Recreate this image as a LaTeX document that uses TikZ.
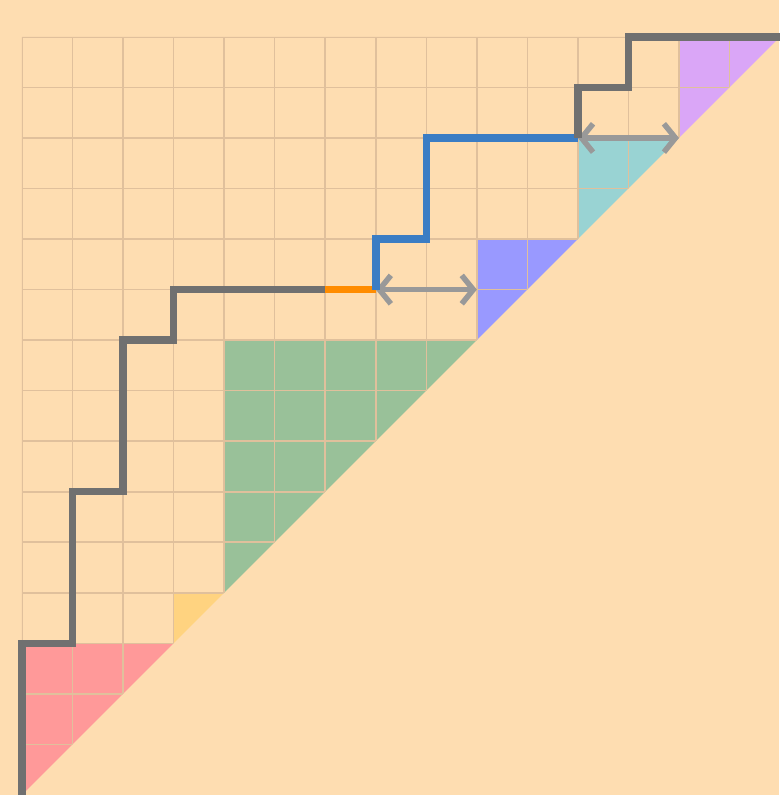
\documentclass[tikz,border=0pt]{standalone}
\usetikzlibrary{arrows.meta}
\definecolor{bg}{RGB}{254,221,177}
\definecolor{gridc}{RGB}{224,192,156}
\definecolor{redf}{RGB}{255,153,153}
\definecolor{yelf}{RGB}{255,211,128}
\definecolor{grnf}{RGB}{153,193,153}
\definecolor{bluf}{RGB}{153,153,255}
\definecolor{tealf}{RGB}{153,211,211}
\definecolor{purf}{RGB}{218,166,247}
\definecolor{pathgray}{RGB}{112,112,112}
\definecolor{pathblue}{RGB}{59,125,196}
\definecolor{pathorange}{RGB}{255,140,0}
\definecolor{arrgray}{RGB}{153,153,153}
\tikzset{
  pathline/.style={line width=4.2pt, line join=miter},
  jumparrow/.style={arrgray, line width=3.1pt, {Straight Barb[length=6.5pt,width=16pt]}-{Straight Barb[length=6.5pt,width=16pt]}},
}
\begin{document}
\begin{tikzpicture}[x=1cm,y=1cm]
\useasboundingbox (-0.435,0) rectangle (14.98,15.73);
\fill[bg] (-0.435,0) rectangle (14.98,15.73);
% fills
\fill[redf] (0,0) -- (0,3) -- (3,3) -- cycle;
\fill[yelf] (3,3) -- (3,4) -- (4,4) -- cycle;
\fill[grnf] (4,4) -- (4,9) -- (9,9) -- cycle;
\fill[bluf] (9,9) -- (9,11) -- (11,11) -- cycle;
\fill[tealf] (11,11) -- (11,13) -- (13,13) -- cycle;
\fill[purf] (13,13) -- (13,15) -- (15,15) -- cycle;
% grid
\begin{scope}
\clip (0,0) -- (0,15) -- (15,15) -- cycle;
\draw[gridc, line width=0.9pt] (0,0) grid (15,15);
\end{scope}
% path coordinates
\coordinate (p0) at (0,0);
\coordinate (p1) at (0,3);
\coordinate (p2) at (1,3);
\coordinate (p3) at (1,6);
\coordinate (p4) at (2,6);
\coordinate (p5) at (2,9);
\coordinate (p6) at (3,9);
\coordinate (p7) at (3,10);
\coordinate (p8) at (6,10);
\coordinate (p9) at (7,10);
\coordinate (p10) at (7,11);
\coordinate (p11) at (8,11);
\coordinate (p12) at (8,13);
\coordinate (p13) at (11,13);
\coordinate (p14) at (11,14);
\coordinate (p15) at (12,14);
\coordinate (p16) at (12,15);
\coordinate (p17) at (15.2,15);
\coordinate (a1) at (9,10);
\coordinate (a2) at (13,13);
% arrows
\draw[jumparrow] (p9) -- (a1);
\draw[jumparrow] (p13) -- (a2);
% path
\draw[pathline, pathgray] (p0) -- (p1) -- (p2) -- (p3) -- (p4) -- (p5) -- (p6) -- (p7) -- (p8);
\draw[pathline, pathorange, line width=3.8pt] (p8) -- (p9);
\draw[pathline, pathblue] (p9) -- (p10) -- (p11) -- (p12) -- (p13);
\draw[pathline, pathgray] (p13) -- (p14) -- (p15) -- (p16) -- (p17);
\end{tikzpicture}
\end{document}
